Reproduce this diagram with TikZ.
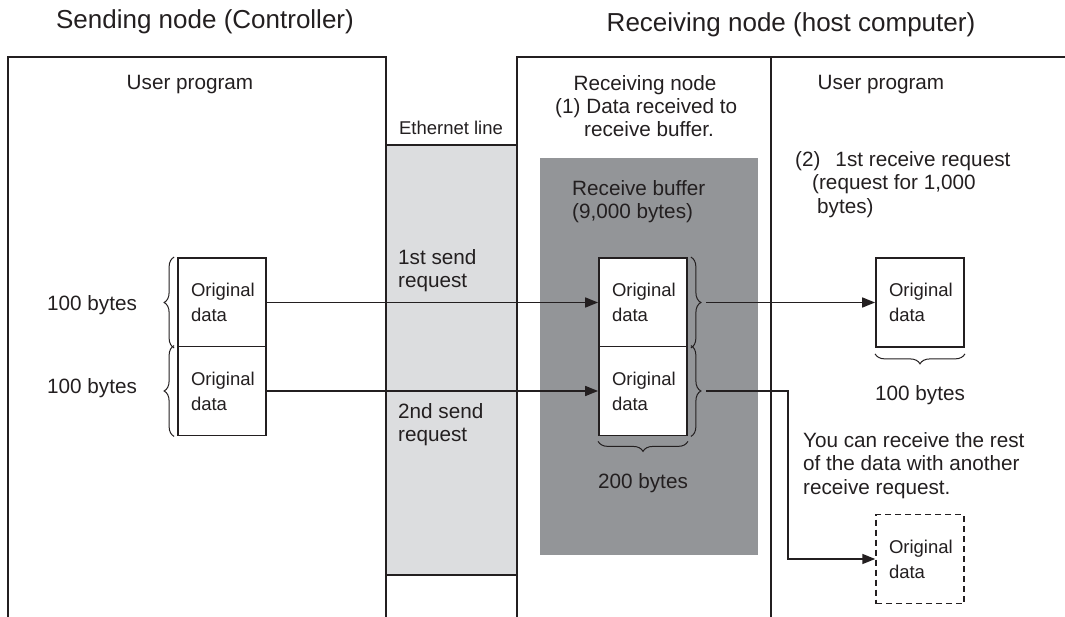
\documentclass[tikz,border=0pt]{standalone}
\usepackage{fontspec}
\setmainfont{Liberation Sans}
\usetikzlibrary{arrows.meta,decorations.pathreplacing,positioning}
\definecolor{ink}{HTML}{231F20}
\definecolor{bufgray}{HTML}{939598}
\definecolor{linegray}{HTML}{DCDDDF}
\tikzset{
  frame/.style={draw=ink, line width=2.4pt},
  databox/.style={draw=ink, line width=1.8pt, fill=white, minimum width=88pt,
    minimum height=89pt, inner sep=0pt, text width=62pt, align=left,
    font=\fontsize{18.5}{25}\selectfont, text=ink},
  lbl/.style={inner sep=0pt, text=ink, font=\fontsize{20.7}{23.7}\selectfont},
  bigtitle/.style={inner sep=0pt, text=ink, font=\fontsize{26}{30}\selectfont},
  sendarrow/.style={draw=ink, line width=1.6pt, -{Triangle[length=13pt,width=10pt]}},
  bytebrace/.style={draw=ink, line width=1pt, decorate,
    decoration={brace, amplitude=10pt}}
}
\begin{document}
\begin{tikzpicture}[x=1pt,y=-1pt]
\useasboundingbox (0,0) rectangle (1065,617);

% grey areas
\fill[linegray] (386,145) rectangle (517,575);
\fill[bufgray] (540,158) rectangle (758,555);

% frames
\draw[frame] (8,617) -- (8,57) -- (386,57) -- (386,617);
\draw[frame] (517,617) -- (517,57) -- (1065,57);
\draw[frame] (771,57) -- (771,617);
\draw[frame] (386,145) -- (517,145);
\draw[frame] (386,575) -- (517,575);

% titles and headings
\node[bigtitle] (sendtitle) at (205,22) {Sending node (Controller)};
\node[bigtitle] (recvtitle) at (791,25) {Receiving node (host computer)};
\node[lbl] (prog1) at (190,85) {User program};
\node[lbl] (recvhead) at (645,85) {Receiving node};
\node[lbl] (prog2) at (881,85) {User program};
\node[lbl, font=\fontsize{18.5}{23}\selectfont] (ethhead) at (451,128) {Ethernet line};

% notes
\node[lbl, anchor=north west, align=left] (note1) at (555,98)
  {(1)\hspace{6pt}Data received to\\\hspace*{29pt}receive buffer.};
\node[lbl, anchor=north west, align=left] (note2) at (795,151)
  {(2)\hspace{15pt}1st receive request\\\hspace*{17pt}(request for 1,000\\\hspace*{22pt}bytes)};
\node[lbl, anchor=north west, align=left] (buflbl) at (572,180)
  {Receive buffer\\(9,000 bytes)};
\node[lbl, anchor=north west, align=left] (send1) at (398,249) {1st send\\request};
\node[lbl, anchor=north west, align=left] (send2) at (398,403) {2nd send\\request};
\node[lbl, anchor=north west, align=left] (note3) at (803,432)
  {You can receive the rest\\of the data with another\\receive request.};

% data blocks
\node[databox] (sd1) at (222,302.5) {Original\\data};
\node[databox] (sd2) at (222,391) {Original\\data};
\node[databox] (rb1) at (643,302.5) {Original\\data};
\node[databox] (rb2) at (643,391) {Original\\data};
\node[databox] (up1) at (920,302.5) {Original\\data};
\node[databox, line width=1.5pt, dash pattern=on 6pt off 4pt] (up2) at (920,559) {Original\\data};

% braces and sizes
\draw[bytebrace] ([xshift=-3pt]sd1.south west) -- ([xshift=-3pt]sd1.north west);
\draw[bytebrace] ([xshift=-3pt]sd2.south west) -- ([xshift=-3pt]sd2.north west);
\node[lbl, left=40pt of sd1, yshift=-3pt] (sdbytes1) {100 bytes};
\node[lbl, left=40pt of sd2, yshift=3pt] (sdbytes2) {100 bytes};
\draw[bytebrace] ([xshift=3pt]rb1.north east) -- ([xshift=3pt]rb1.south east);
\draw[bytebrace] ([xshift=3pt]rb2.north east) -- ([xshift=3pt]rb2.south east);
\draw[bytebrace] ([yshift=-5pt]rb2.south east) -- ([yshift=-5pt]rb2.south west);
\node[lbl, below=37pt of rb2] (rbbytes) {200 bytes};
\draw[bytebrace] ([yshift=-6pt]up1.south east) -- ([yshift=-6pt]up1.south west);
\node[lbl, below=37pt of up1] (upbytes) {100 bytes};

\coordinate (tip1) at ([xshift=18pt]rb1.east);
\coordinate (tip2) at ([xshift=18pt]rb2.east);

% transfers
\draw[sendarrow] (sd1.east) -- (rb1.west);
\draw[sendarrow] (sd2.east) -- (rb2.west);
\draw[sendarrow] (tip1) -- (up1.west);
\draw[sendarrow] (tip2) -- ++(82,0) |- (up2.west);
\end{tikzpicture}
\end{document}
